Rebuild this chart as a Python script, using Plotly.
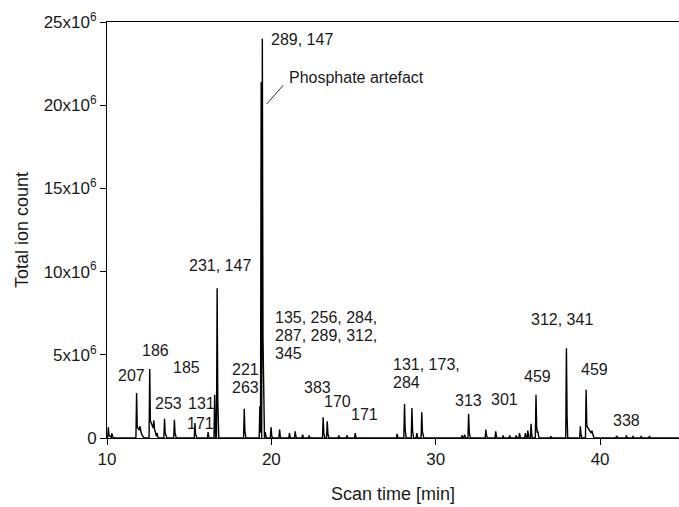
import numpy as np
import plotly.graph_objects as go

# Peak table of the total ion chromatogram: retention time [min], height [x10^6 counts],
# and the length of the peak tail [min].
peak_time = [10.08, 10.3, 11.8, 12.0, 12.6, 12.85, 13.05, 13.5, 14.1, 15.35, 16.15,
             16.55, 16.7, 18.35, 19.3, 19.38, 19.45, 19.62, 19.98, 20.5, 21.1, 21.45,
             21.9, 22.3, 23.15, 23.4, 24.1, 24.6, 25.1, 27.65, 28.1, 28.55, 28.85,
             29.15, 31.6, 31.75, 32.0, 33.05, 33.65, 34.1, 34.5, 34.9, 35.1, 35.45,
             35.6, 35.8, 36.1, 36.22, 37.0, 37.95, 38.8, 39.15, 39.5, 41.0, 41.6,
             42.0, 42.5, 43.0]
peak_height = [0.65, 0.25, 2.7, 0.3, 4.15, 0.55, 0.3, 1.15, 1.1, 0.9, 0.35,
               2.6, 9.0, 1.75, 1.9, 21.4, 24.0, 0.35, 0.65, 0.5, 0.3, 0.4,
               0.2, 0.15, 1.25, 1.0, 0.15, 0.15, 0.3, 0.25, 2.05, 1.8, 0.3,
               1.55, 0.15, 0.2, 1.45, 0.5, 0.4, 0.15, 0.15, 0.15, 0.3, 0.3,
               0.45, 0.85, 2.6, 0.4, 0.1, 5.4, 0.7, 2.9, 0.2, 0.12, 0.15,
               0.12, 0.12, 0.12]
peak_tail = [0.25, 0.1, 0.45, 0.1, 0.45, 0.15, 0.1, 0.15, 0.12, 0.12, 0.1,
             0.06, 0.1, 0.1, 0.06, 0.03, 0.12, 0.08, 0.08, 0.08, 0.08, 0.08,
             0.08, 0.08, 0.1, 0.1, 0.08, 0.08, 0.08, 0.08, 0.1, 0.1, 0.08,
             0.12, 0.08, 0.08, 0.1, 0.12, 0.1, 0.08, 0.08, 0.08, 0.08, 0.08,
             0.08, 0.08, 0.12, 0.1, 0.08, 0.08, 0.1, 0.5, 0.1, 0.08, 0.08,
             0.08, 0.08, 0.08]

# Fragment ion labels (m/z) written above the peaks
label_text = ["207", "186", "185", "253", "131", "171", "231, 147", "221,<br>263",
              "289, 147", "135, 256, 284,<br>287, 289, 312,<br>345", "383", "170",
              "171", "131, 173,<br>284", "313", "301", "459", "312, 341", "459", "338"]

y_tick_values = [0, 5e6, 10e6, 15e6, 20e6, 25e6]
y_tick_text = ["0", "5x10<sup>6</sup>", "10x10<sup>6</sup>", "15x10<sup>6</sup>",
               "20x10<sup>6</sup>", "25x10<sup>6</sup>"]
x_tick_values = [10, 20, 30, 40]

# Placement of each label (centre of the whole block): time, counts x10^6, anchor
label_pos = [(11.52, 3.73, "center"), (12.98, 5.23, "center"), (14.81, 4.21, "center"),
             (13.77, 2.10, "center"), (15.72, 2.10, "center"), (15.66, 0.90, "center"),
             (16.88, 10.34, "center"), (17.49, 3.55, "left"), (21.87, 23.92, "center"),
             (20.10, 6.19, "left"), (22.78, 3.06, "center"), (24.0, 2.22, "center"),
             (25.64, 1.44, "center"), (27.29, 3.88, "left"), (31.97, 2.28, "center"),
             (34.16, 2.34, "center"), (36.17, 3.67, "center"), (37.69, 7.15, "center"),
             (39.64, 4.09, "center"), (41.59, 1.08, "center")]
LINE_STEP = 18  # px between lines of a stacked label


def peak_profile(t0, h, tail, t):
    """Piecewise-linear peak: sharp rise, fast drop to a quarter height, then tail."""
    rise = 0.04
    knee = min(0.04, tail * 0.5)
    xs = [t0 - rise, t0, t0 + knee, t0 + tail]
    ys = [0.0, h, 0.25 * h, 0.0]
    return np.interp(t, xs, ys, left=0.0, right=0.0)


# Sum the peaks on all their break points so the trace stays exact
breaks = [10.0, 44.8]
for t0, tail in zip(peak_time, peak_tail):
    breaks += [t0 - 0.04, t0, t0 + min(0.04, tail * 0.5), t0 + tail]
t_grid = np.unique(np.array(breaks))
signal = np.zeros_like(t_grid)
for t0, h, tail in zip(peak_time, peak_height, peak_tail):
    signal += peak_profile(t0, h, tail, t_grid)
signal *= 1e6

fig = go.Figure()
fig.add_trace(go.Scatter(x=t_grid, y=signal, mode="lines",
                         line=dict(color="black", width=1.4),
                         hoverinfo="skip", showlegend=False))

FAMILY = "Liberation Sans, Arial, sans-serif"
text_font = dict(family=FAMILY, size=16, color="#1a1a1a")
for txt, (lx, ly, anchor) in zip(label_text, label_pos):
    lines = txt.split("<br>")
    n = len(lines)
    for i, line in enumerate(lines):
        shift = ((n - 1) / 2 - i) * LINE_STEP
        fig.add_annotation(x=lx, y=ly * 1e6, text=line, showarrow=False, xanchor=anchor,
                           yanchor="middle", yshift=shift, font=text_font)

fig.add_annotation(x=20.96, y=21.69e6, text="Phosphate artefact", showarrow=False,
                   xanchor="left", yanchor="middle", font=text_font)
fig.add_shape(type="line", x0=19.72, y0=20.07e6, x1=20.72, y1=21.2e6,
              line=dict(color="#333333", width=1))

fig.update_layout(
    width=679, height=507,
    margin=dict(l=107, r=0, t=22, b=69),
    paper_bgcolor="white", plot_bgcolor="white",
    font=dict(family=FAMILY, size=16, color="#1a1a1a"),
    xaxis=dict(range=[10, 44.8], tickvals=x_tick_values, ticks="outside", ticklen=6,
               tickcolor="black", showline=True, linecolor="black", linewidth=1,
               mirror=True, showgrid=False, zeroline=False, tickfont=dict(size=17),
               title=dict(text="Scan time [min]", font=dict(size=18), standoff=18)),
    yaxis=dict(range=[0, 25e6], tickvals=y_tick_values, ticktext=y_tick_text,
               ticks="outside", ticklen=6, tickcolor="black", showline=True,
               linecolor="black", linewidth=1, showgrid=False, zeroline=False,
               tickfont=dict(size=17),
               title=dict(text="Total ion count", font=dict(size=18), standoff=10)),
)

fig.write_html("out.html")
